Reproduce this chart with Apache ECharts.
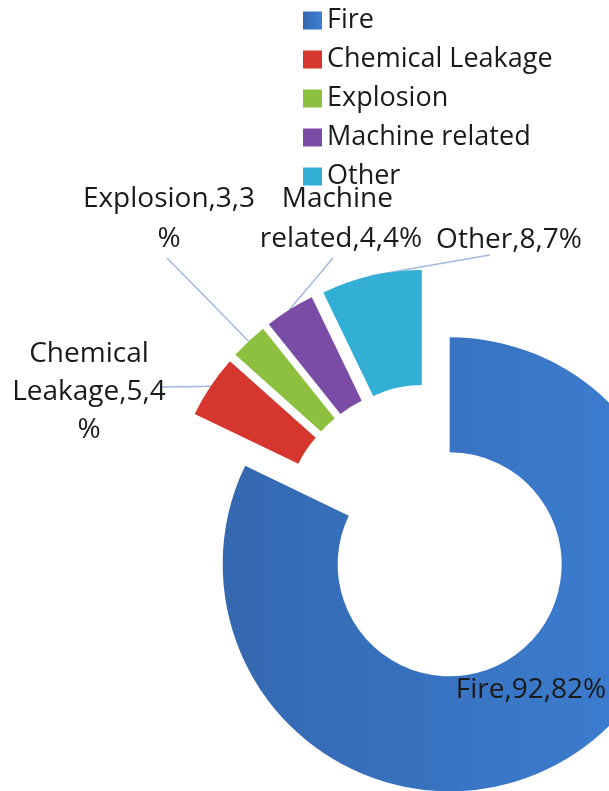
<!DOCTYPE html>
<html>
<head>
<meta charset="utf-8">
<script src="https://cdn.jsdelivr.net/npm/echarts@6/dist/echarts.min.js"></script>
<style>
  html, body { margin: 0; padding: 0; background: #fff; }
  #chart { width: 609px; height: 791px; }
</style>
</head>
<body>
<div id="chart"></div>
<script>
// accident causes
var categories = ['Fire', 'Chemical Leakage', 'Explosion', 'Machine related', 'Other'];
var counts = [92, 5, 3, 4, 8];
var colors = ['#3b79c9', '#d5372f', '#8cc03e', '#7a4ca6', '#33afd5'];

var pieCenter = [430, 533];
var outerR = 227;
var explode = 37;

// where each data label sits (center of text block) and where its leader line ends
var labelSpots = [
    { x: 531, y: 690 },
    { x: 89, y: 392 },
    { x: 169, y: 219 },
    { x: 341, y: 219 },
    { x: 509, y: 240 }
];
var leaderEnds = [null, [160, 387], [167, 258], [333, 258], [490, 255]];
// wrapping per label (Excel wraps the narrow ones)
var labelWidths = [220, 162, 180, 175, 220];
var labelOverflow = ['break', 'breakAll', 'breakAll', 'break', 'break'];
var splitName = [false, true, false, false, false];
var labelLineHeights = [40, 38, 40, 40, 40];

var total = counts.reduce(function (a, b) { return a + b; }, 0);

// mid angle of each slice, clockwise from 12 o'clock
function midAngle(i) {
    var before = 0;
    for (var k = 0; k < i; k++) before += counts[k];
    return (before + counts[i] / 2) / total * Math.PI * 2;
}
function sliceOffset(i) {
    var a = midAngle(i);
    return [Math.sin(a) * explode, -Math.cos(a) * explode];
}

var chart = echarts.init(document.getElementById('chart'));

var seriesData = categories.map(function (name, i) {
    var item = {
        name: name,
        value: counts[i],
        selected: true,
        itemStyle: { color: colors[i] },
        label: {
            width: labelWidths[i],
            overflow: labelOverflow[i],
            lineHeight: labelLineHeights[i]
        }
    };
    if (i === 0) {
        item.itemStyle.color = new echarts.graphic.LinearGradient(0, 0, 1, 0, [
            { offset: 0, color: '#3468b0' },
            { offset: 1, color: '#3d7fd3' }
        ]);
        item.labelLine = { show: false };
    }
    return item;
});

var option = {
    animation: false,
    legend: {
        orient: 'vertical',
        left: 303,
        top: 7,
        padding: 0,
        itemWidth: 19,
        itemHeight: 18,
        itemGap: 12,
        icon: 'rect',
        data: categories,
        textStyle: {
            fontFamily: 'Open Sans',
            fontSize: 27,
            color: '#1a1a1a'
        }
    },
    series: [
        {
            type: 'pie',
            center: pieCenter,
            radius: [112, outerR],
            startAngle: 90,
            clockwise: true,
            selectedMode: 'multiple',
            selectedOffset: explode,
            percentPrecision: 0,
            avoidLabelOverlap: false,
            emphasis: { disabled: true },
            data: seriesData,
            label: {
                show: true,
                position: 'outside',
                formatter: function (p) {
                    var n = splitName[p.dataIndex] ? p.name.replace(' ', '\n') : p.name;
                    return n + ',' + p.value + ',' + p.percent + '%';
                },
                fontFamily: 'Open Sans',
                fontSize: 28,
                color: '#1a1a1a'
            },
            labelLine: {
                show: true,
                lineStyle: { color: '#a3b8df', width: 1.5 }
            },
            labelLayout: function (params) {
                var i = params.dataIndex;
                var r = params.labelRect;
                var s = labelSpots[i];
                var off = sliceOffset(i);
                var al = params.align || ((r.x + r.width / 2) > pieCenter[0] ? 'left' : 'right');
                var anchorX = al === 'left' ? r.x : (al === 'right' ? r.x + r.width : r.x + r.width / 2);
                var res = {
                    dx: s.x - anchorX - off[0],
                    dy: s.y - (r.y + r.height / 2) - off[1],
                    align: 'center'
                };
                if (leaderEnds[i]) {
                    var a = midAngle(i);
                    var sx = pieCenter[0] + Math.sin(a) * outerR;
                    var sy = pieCenter[1] - Math.cos(a) * outerR;
                    var ex = leaderEnds[i][0] - off[0];
                    var ey = leaderEnds[i][1] - off[1];
                    res.labelLinePoints = [[sx, sy], [(sx + ex) / 2, (sy + ey) / 2], [ex, ey]];
                }
                return res;
            }
        }
    ]
};

chart.setOption(option);
</script>
</body>
</html>
